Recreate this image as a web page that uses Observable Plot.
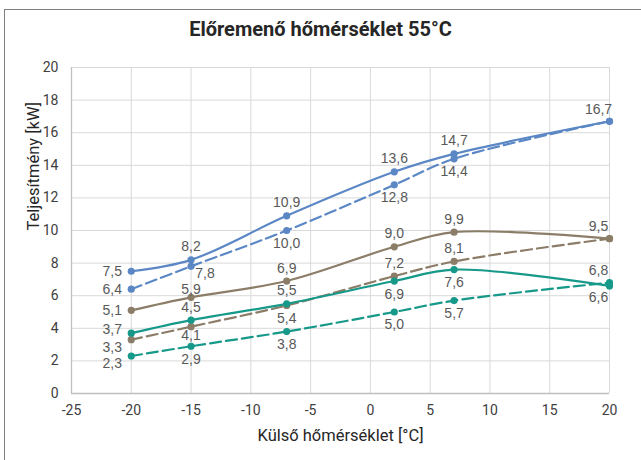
<!DOCTYPE html>
<html><head><meta charset="utf-8">
<script src="https://cdn.jsdelivr.net/npm/d3@7"></script>
<script src="https://cdn.jsdelivr.net/npm/@observablehq/plot@0.6"></script>
<style>
body{margin:0;background:#fff;}
#wrap{position:relative;width:641px;height:460px;overflow:hidden;background:#fff;}
#frame{position:absolute;left:4px;top:9px;width:660px;height:480px;border:1px solid #7f7f7f;box-sizing:border-box;}
#title{position:absolute;left:0;width:641px;top:17px;text-align:center;font:bold 20px Roboto, sans-serif;color:#262626;}
#chart{position:absolute;left:0;top:0;}
</style></head><body>
<div id="wrap"><div id="frame"></div><div id="title">Előremenő hőmérséklet 55°C</div><div id="chart"></div></div>
<script>
const temps = [-20, -15, -7, 2, 7, 20];
const seriesNames = ["blueSolid", "blueDashed", "brownSolid", "brownDashed", "greenSolid", "greenDashed"];
const blueSolid   = [7.5, 8.2, 10.9, 13.6, 14.7, 16.7];
const blueDashed  = [6.4, 7.8, 10.0, 12.8, 14.4, 16.7];
const brownSolid  = [5.1, 5.9, 6.9, 9.0, 9.9, 9.5];
const brownDashed = [3.3, 4.1, 5.4, 7.2, 8.1, 9.5];
const greenSolid  = [3.7, 4.5, 5.5, 6.9, 7.6, 6.6];
const greenDashed = [2.3, 2.9, 3.8, 5.0, 5.7, 6.8];
const xTicks = [-25, -20, -15, -10, -5, 0, 5, 10, 15, 20];
const yTicks = [0, 2, 4, 6, 8, 10, 12, 14, 16, 18, 20];
const xTitle = "Külső hőmérséklet [°C]";
const yTitle = "Teljesítmény [kW]";

// label placement per point (null = no label)
const labelPlace = {
  blueSolid:   ["l", "t", "t", "t", "t", "tl"],
  blueDashed:  ["l", "br", "b", "b", "b", null],
  brownSolid:  ["l", "ts", "t", "t", "t", "tl"],
  brownDashed: ["ld", "bs", "b", "t", "t", null],
  greenSolid:  ["lu", "t", "t", "b", "b", "bl"],
  greenDashed: ["ld", "b", "b", "b", "b", "tl"]
};
const offsets = {
  t: [0, -13], ts: [0, -8], b: [0, 13], bs: [0, 9], l: [-19, 0], lu: [-19, -4], ld: [-19, 8],
  br: [14, 7], tl: [-11, -12], bl: [-11, 12]
};
const colorOf = {blueSolid: "#5b87c5", blueDashed: "#5b87c5", brownSolid: "#8b7d67", brownDashed: "#8b7d67", greenSolid: "#17998a", greenDashed: "#17998a"};
const dashed = {blueSolid: false, blueDashed: true, brownSolid: false, brownDashed: true, greenSolid: false, greenDashed: true};
const values = {blueSolid, blueDashed, brownSolid, brownDashed, greenSolid, greenDashed};

const rows = [];
for (const s of seriesNames) values[s].forEach((v, i) => rows.push({s, x: temps[i], y: v, place: labelPlace[s][i]}));

const fmt = v => v.toFixed(1).replace(".", ",");

const marks = [
  Plot.gridY(yTicks, {stroke: "#d9d9d9", strokeOpacity: 1, strokeWidth: 1}),
  Plot.gridX(xTicks, {stroke: "#d9d9d9", strokeOpacity: 1, strokeWidth: 1}),
  Plot.ruleX([-25], {stroke: "#bfbfbf", strokeWidth: 1.3}),
  Plot.ruleY([0], {stroke: "#bfbfbf", strokeWidth: 1.3}),
  Plot.axisX({ticks: xTicks, tickSize: 0, tickPadding: 12, fontSize: 14, label: null, tickFormat: d => d}),
  Plot.axisY({ticks: yTicks, tickSize: 0, tickPadding: 13, fontSize: 14, label: null, tickFormat: d => d}),
  Plot.text([xTitle], {frameAnchor: "bottom", dy: 47, fontSize: 16.5, fill: "#262626", text: d => d}),
  Plot.text([yTitle], {frameAnchor: "left", dx: -38, rotate: -90, fontSize: 16.5, fill: "#262626", text: d => d})
];
for (const s of seriesNames) {
  const d = rows.filter(r => r.s === s);
  marks.push(Plot.line(d, {x: "x", y: "y", curve: "catmull-rom", stroke: colorOf[s], strokeWidth: 2.2, strokeDasharray: dashed[s] ? "11,5" : null}));
}
for (const s of seriesNames) {
  const d = rows.filter(r => r.s === s);
  marks.push(Plot.dot(d, {x: "x", y: "y", r: 3.6, fill: colorOf[s]}));
}
for (const [p, [dx, dy]] of Object.entries(offsets)) {
  marks.push(Plot.text(rows.filter(r => r.place === p), {x: "x", y: "y", text: r => fmt(r.y), dx, dy, fill: "#595959", fontSize: 14, fontFamily: "Liberation Sans, Arial, sans-serif"}));
}

const chart = Plot.plot({
  width: 641, height: 460,
  marginLeft: 71, marginRight: 32, marginTop: 67, marginBottom: 67,
  x: {domain: [-25, 20]},
  y: {domain: [0, 20]},
  style: {fontFamily: "Roboto, sans-serif", color: "#404040", background: "transparent", overflow: "visible"},
  marks
});
document.getElementById("chart").appendChild(chart);
</script>
</body></html>
